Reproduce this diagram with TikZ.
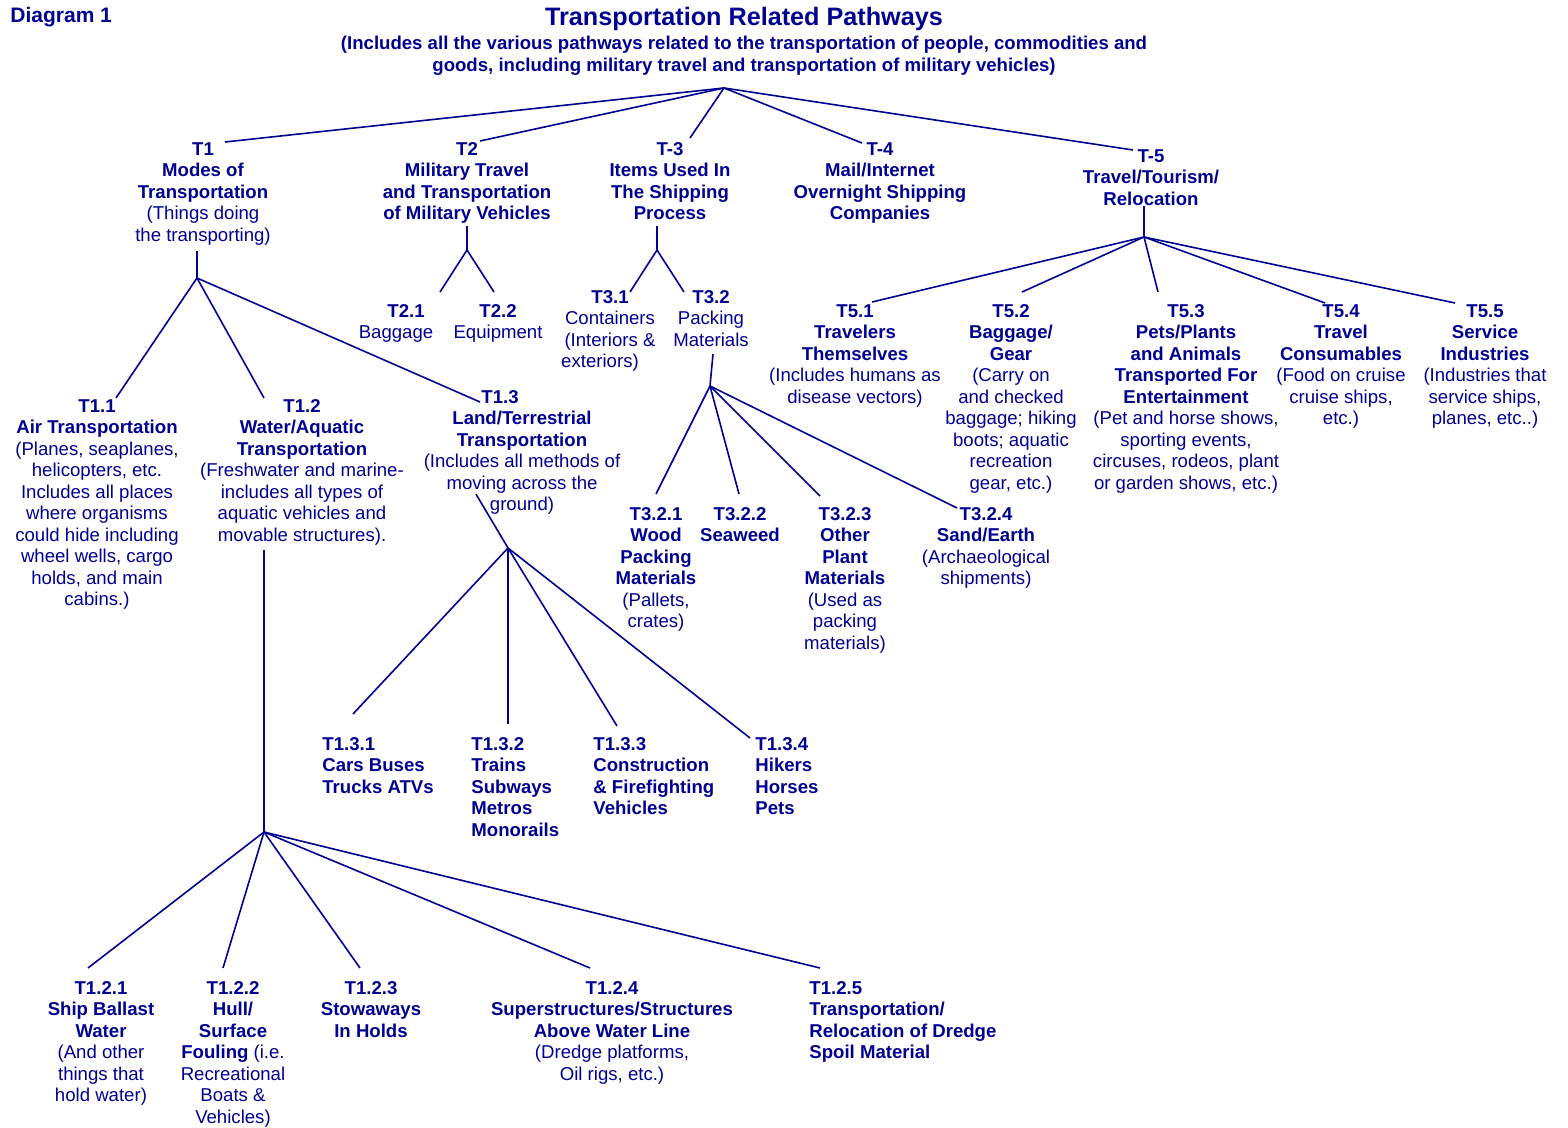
\documentclass[tikz,border=0pt]{standalone}
\usepackage{fontspec}
\setmainfont{Liberation Sans}
\definecolor{navyblue}{RGB}{0,0,145}
\tikzset{
  item/.style={anchor=north, align=center, inner sep=0pt, yshift=-1pt, text=navyblue, font=\fontsize{9.3}{10.75}\selectfont},
  itemleft/.style={item, anchor=north west, align=left},
  branch/.style={draw=navyblue, line width=0.8pt},
}
\begin{document}
\begin{tikzpicture}[x=0.5pt, y=-0.5pt]
    \useasboundingbox (0,0) rectangle (1568,1128);
    % heading
    \node[item, yshift=1pt, anchor=base west, font=\fontsize{10.5}{12}\selectfont\bfseries] (diag) at (10,23) {Diagram 1};
    \node[item, yshift=1pt, anchor=base, font=\fontsize{12.6}{15}\selectfont\bfseries] (title) at (744,26) {Transportation Related Pathways};
    \node[item, font=\fontsize{9.3}{10.75}\selectfont\bfseries] (sub) at (744,34) {(Includes all the various pathways related to the transportation of people, commodities and\\ goods, including military travel and transportation of military vehicles)};
    \coordinate (root) at (724,88);

    % first level
    \node[item] (t1) at (203,140) {\textbf{T1}\\ \textbf{Modes of}\\ \textbf{Transportation}\\ (Things doing\\ the transporting)};
    \node[item, font=\fontsize{9.3}{10.75}\selectfont\bfseries] (t2) at (467,140) {T2\\ Military Travel\\ and Transportation\\ of Military Vehicles};
    \node[item, font=\fontsize{9.3}{10.75}\selectfont\bfseries] (t3) at (670,140) {T-3\\ Items Used In\\ The Shipping\\ Process};
    \node[item, font=\fontsize{9.3}{10.75}\selectfont\bfseries] (t4) at (880,140) {T-4\\ Mail/Internet\\ Overnight Shipping\\ Companies};
    \node[item, font=\fontsize{9.3}{10.75}\selectfont\bfseries] (t5) at (1151,147) {T-5\\ Travel/Tourism/\\ Relocation};

    \draw[branch] (root) -- ([shift={(22,0)}]t1.north);
    \draw[branch] (root) -- ([shift={(13,-1)}]t2.north);
    \draw[branch] (root) -- ([shift={(20,-4)}]t3.north);
    \draw[branch] (root) -- ([shift={(-18,1)}]t4.north);
    \draw[branch] (root) -- ([shift={(-18,1)}]t5.north);

    % T2 and T3
    \coordinate (j2) at (467,250);
    \coordinate (j3) at (657,250);
    \node[item] (t21) at (396,302) {\hspace*{10pt}\textbf{T2.1}\\ Baggage};
    \node[item] (t22) at (498,302) {\textbf{T2.2}\\ Equipment};
    \node[item] (t31) at (610,288) {\textbf{T3.1}\\ Containers\\ (Interiors \&\\ exteriors)\hspace*{10pt}};
    \node[item] (t32) at (711,288) {\textbf{T3.2}\\ Packing\\ Materials};
    \draw[branch] (j2) -- ([yshift=-1pt]j2 |- t2.south);
    \draw[branch] (j2) -- ([shift={(44,-12)}]t21.north);
    \draw[branch] (j2) -- ([shift={(-4,-12)}]t22.north);
    \draw[branch] (j3) -- ([yshift=-3pt]j3 |- t3.south);
    \draw[branch] (j3) -- ([shift={(20,2)}]t31.north);
    \draw[branch] (j3) -- ([shift={(-27,2)}]t32.north);

    \coordinate (j32) at (710,386);
    \node[item] (t321) at (656,505) {\textbf{T3.2.1}\\ \textbf{Wood}\\ \textbf{Packing}\\ \textbf{Materials}\\ (Pallets,\\ crates)};
    \node[item] (t322) at (740,505) {\textbf{T3.2.2}\\ \textbf{Seaweed}};
    \node[item] (t323) at (845,505) {\textbf{T3.2.3}\\ \textbf{Other}\\ \textbf{Plant}\\ \textbf{Materials}\\ (Used as\\ packing\\ materials)};
    \node[item] (t324) at (986,505) {\textbf{T3.2.4}\\ \textbf{Sand/Earth}\\ (Archaeological\\ shipments)};
    \draw[branch] (j32) -- ([shift={(2,7)}]t32.south);
    \draw[branch] (j32) -- ([shift={(0,-13)}]t321.north);
    \draw[branch] (j32) -- ([shift={(-1,-13)}]t322.north);
    \draw[branch] (j32) -- ([shift={(-25,-11)}]t323.north);
    \draw[branch] (j32) -- ([shift={(-29,1)}]t324.north);

    % T5
    \coordinate (j5) at (1144,237);
    \node[item] (t51) at (855,302) {\textbf{T5.1}\\ \textbf{Travelers}\\ \textbf{Themselves}\\ (Includes humans as\\ disease vectors)};
    \node[item] (t52) at (1011,302) {\textbf{T5.2}\\ \textbf{Baggage/}\\ \textbf{Gear}\\ (Carry on\\ and checked\\ baggage; hiking\\ boots; aquatic\\ recreation\\ gear, etc.)};
    \node[item] (t53) at (1186,302) {\textbf{T5.3}\\ \textbf{Pets/Plants}\\ \textbf{and Animals}\\ \textbf{Transported For}\\ \textbf{Entertainment}\\ (Pet and horse shows,\\ sporting events,\\ circuses, rodeos, plant\\ or garden shows, etc.)};
    \node[item] (t54) at (1341,302) {\textbf{T5.4}\\ \textbf{Travel}\\ \textbf{Consumables}\\ (Food on cruise\\ cruise ships,\\ etc.)};
    \node[item] (t55) at (1485,302) {\textbf{T5.5}\\ \textbf{Service}\\ \textbf{Industries}\\ (Industries that\\ service ships,\\ planes, etc..)};
    \draw[branch] (j5) -- ([yshift=0pt]j5 |- t5.south);
    \draw[branch] (j5) -- ([shift={(17,-2)}]t51.north);
    \draw[branch] (j5) -- ([shift={(11,-12)}]t52.north);
    \draw[branch] (j5) -- ([shift={(-28,-12)}]t53.north);
    \draw[branch] (j5) -- ([shift={(-16,-1)}]t54.north);
    \draw[branch] (j5) -- ([shift={(-30,-1)}]t55.north);

    % T1
    \coordinate (j1) at (197,278);
    \node[item] (t11) at (97,397) {\textbf{T1.1}\\ \textbf{Air Transportation}\\ (Planes, seaplanes,\\ helicopters, etc.\\ Includes all places\\ where organisms\\ could hide including\\ wheel wells, cargo\\ holds, and main\\ cabins.)};
    \node[item] (t12) at (302,397) {\textbf{T1.2}\\ \textbf{Water/Aquatic}\\ \textbf{Transportation}\\ (Freshwater and marine-\\ includes all types of\\ aquatic vehicles and\\ movable structures).};
    \node[item] (t13) at (522,388) {\textbf{T1.3}\hspace*{22pt}\\ \textbf{Land/Terrestrial}\\ \textbf{Transportation}\\ (Includes all methods of\\ moving across the\\ ground)};
    \draw[branch] (j1) -- ([yshift=-3pt]j1 |- t1.south);
    \draw[branch] (j1) -- ([shift={(19,-1)}]t11.north);
    \draw[branch] (j1) -- ([shift={(-38,-1)}]t12.north);
    \draw[branch] (j1) -- ([shift={(-42,12)}]t13.north);

    % T1.3
    \coordinate (j13) at (508,548);
    \node[itemleft, font=\fontsize{9.3}{10.75}\selectfont\bfseries] (t131) at (322,735) {T1.3.1\\ Cars Buses\\ Trucks ATVs};
    \node[itemleft, font=\fontsize{9.3}{10.75}\selectfont\bfseries] (t132) at (471,735) {T1.3.2\\ Trains\\ Subways\\ Metros\\ Monorails};
    \node[itemleft, font=\fontsize{9.3}{10.75}\selectfont\bfseries] (t133) at (593,735) {T1.3.3\\ Construction\\ \& Firefighting\\ Vehicles};
    \node[itemleft, font=\fontsize{9.3}{10.75}\selectfont\bfseries] (t134) at (755,735) {T1.3.4\\ Hikers\\ Horses\\ Pets};
    \draw[branch] (j13) -- ([shift={(-46,-21)}]t13.south);
    \draw[branch] (j13) -- ([shift={(31,-23)}]t131.north west);
    \draw[branch] (j13) -- ([shift={(37,-13)}]t132.north west);
    \draw[branch] (j13) -- ([shift={(24,-11)}]t133.north west);
    \draw[branch] (j13) -- ([shift={(-5,1)}]t134.north west);

    % T1.2
    \coordinate (j12) at (264,832);
    \node[item] (t121) at (101,979) {\textbf{T1.2.1}\\ \textbf{Ship Ballast}\\ \textbf{Water}\\ (And other\\ things that\\ hold water)};
    \node[item] (t122) at (233,979) {\textbf{T1.2.2}\\ \textbf{Hull/}\\ \textbf{Surface}\\ \textbf{Fouling} (i.e.\\ Recreational\\ Boats \&\\ Vehicles)};
    \node[item] (t123) at (371,979) {\textbf{T1.2.3}\\ \textbf{Stowaways}\\ \textbf{In Holds}};
    \node[item] (t124) at (612,979) {\textbf{T1.2.4}\\ \textbf{Superstructures/Structures}\\ \textbf{Above Water Line}\\ (Dredge platforms,\\ Oil rigs, etc.)};
    \node[itemleft, font=\fontsize{9.3}{10.75}\selectfont\bfseries] (t125) at (809,979) {T1.2.5\\ Transportation/\\ Relocation of Dredge\\ Spoil Material};
    \draw[branch] (j12) -- ([yshift=-2pt]j12 |- t12.south);
    \draw[branch] (j12) -- ([shift={(-13,-13)}]t121.north);
    \draw[branch] (j12) -- ([shift={(-10,-13)}]t122.north);
    \draw[branch] (j12) -- ([shift={(-11,-13)}]t123.north);
    \draw[branch] (j12) -- ([shift={(-22,-13)}]t124.north);
    \draw[branch] (j12) -- ([shift={(11,-13)}]t125.north west);
\end{tikzpicture}
\end{document}
